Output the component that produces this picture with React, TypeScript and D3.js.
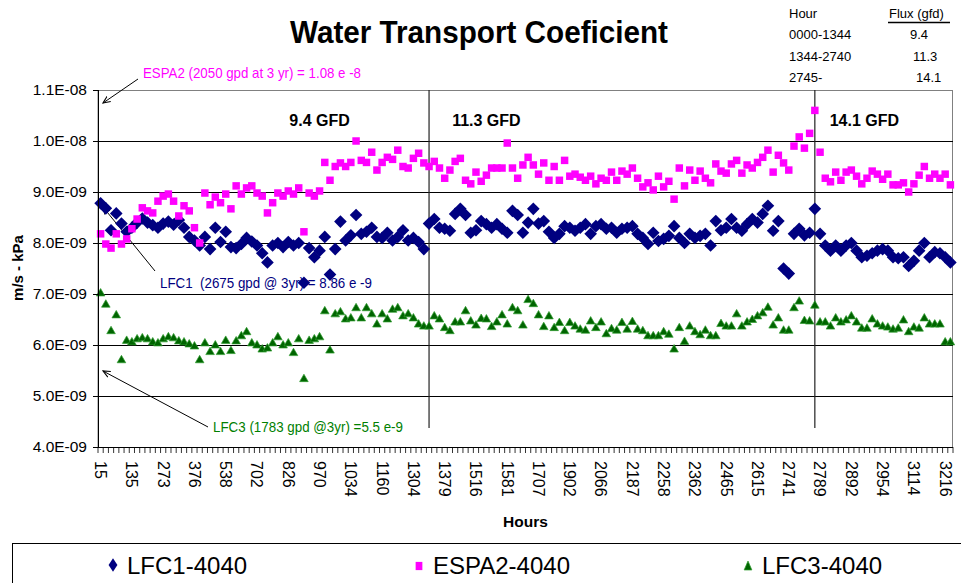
import React from 'react';
import * as d3 from 'd3';

// values in units of 1e-9 m/s-kPa, one per sampled hour (category)
const lfc1 = [
  8.78, 8.68, 8.25, 8.58, 8.38, 8.22, 8.3, 8.4, 8.48, 8.4, 8.35, 8.3, 8.38, 8.42, 8.36, 8.45, 8.3, 8.12, 8.05, 7.95,
  8.12, 7.88, 8.3, 8.02, 8.22, 7.92, 7.9, 7.98, 8.1, 8.03, 7.95, 7.8, 7.62, 7.95, 8.0, 7.92, 8.02, 7.95, 8.0, 7.22,
  7.9, 7.72, 7.85, 8.12, 7.38, 7.88, 8.42, 8.05, 8.15, 8.55, 8.18, 8.22, 8.3, 8.12, 8.1, 8.2, 8.05, 8.12, 8.25, 8.05,
  8.1, 8.02, 7.88, 8.38,
  8.47, 8.3, 8.28, 8.24, 8.57, 8.67, 8.55, 8.2, 8.25, 8.43, 8.37, 8.3, 8.37, 8.28, 8.2, 8.63, 8.55, 8.2, 8.4, 8.67,
  8.38, 8.43, 8.22, 8.1, 8.18, 8.33, 8.3, 8.24, 8.3, 8.37, 8.18, 8.33, 8.37, 8.28, 8.3, 8.2, 8.28, 8.3, 8.33, 8.18,
  8.1, 7.98, 8.2, 8.04, 8.08, 8.14, 8.33, 8.1, 8.0, 8.18, 8.1, 8.14, 8.18, 7.95, 8.43, 8.25, 8.3, 8.47, 8.3, 8.24,
  8.37, 8.47, 8.4, 8.57, 8.73, 8.24, 8.43, 7.5, 7.4, 8.18, 8.28, 8.15, 8.2, 8.67,
  8.18, 7.95, 7.85, 7.95, 7.85, 7.95, 8.0, 7.85, 7.72, 7.75, 7.8, 7.85, 7.88, 7.85, 7.72, 7.7, 7.72, 7.55, 7.65, 7.85,
  8.0, 7.72, 7.82, 7.8, 7.72, 7.62,
];

const espa2 = [
  8.18, 7.98, 7.9, 8.18, 7.98, 8.08, 8.28, 8.47, 8.69, 8.63, 8.59, 8.82, 8.92, 8.96, 8.82, 8.53, 8.73, 8.63, 8.3, 8.0,
  8.98, 8.75, 8.9, 8.79, 8.96, 8.67, 9.12, 8.96, 9.08, 9.12, 8.98, 8.92, 8.59, 8.79, 8.98, 8.92, 9.02, 8.96, 9.08, 8.22,
  8.98, 8.92, 9.02, 9.58, 9.23, 9.5, 9.57, 9.5, 9.58, 10.0, 9.62, 9.58, 9.78, 9.43, 9.58, 9.68, 9.64, 9.82, 9.5, 9.47,
  9.66, 9.76, 9.57, 9.5,
  9.6, 9.47, 9.27, 9.43, 9.6, 9.66, 9.23, 9.16, 9.39, 9.21, 9.33, 9.47, 9.47, 9.47, 9.96, 9.47, 9.27, 9.53, 9.68, 9.53,
  9.35, 9.57, 9.23, 9.5, 9.23, 9.62, 9.31, 9.35, 9.29, 9.23, 9.31, 9.16, 9.27, 9.23, 9.39, 9.23, 9.41, 9.35, 9.47, 9.27,
  9.1, 9.18, 9.04, 9.31, 9.1, 9.21, 8.86, 9.47, 9.12, 9.43, 9.23, 9.41, 9.27, 9.18, 9.55, 9.41, 9.37, 9.55, 9.62, 9.37,
  9.53, 9.47, 9.58, 9.68, 9.82, 9.39, 9.72, 9.57, 9.43, 9.9, 10.08, 9.86, 10.15, 10.6,
  9.78, 9.27, 9.2, 9.39, 9.23, 9.39, 9.43, 9.31, 9.16, 9.27, 9.41, 9.35, 9.25, 9.35, 9.14, 9.14, 9.18, 9.0, 9.16, 9.33,
  9.5, 9.27, 9.35, 9.27, 9.35, 9.14,
];

const lfc3 = [
  7.03, 6.81, 6.29, 6.6, 5.72, 6.1, 6.07, 6.13, 6.15, 6.13, 6.07, 6.05, 6.13, 6.17, 6.15, 6.09, 6.07, 6.03, 5.99, 5.72,
  6.05, 5.88, 6.01, 5.88, 6.1, 5.9, 6.09, 6.19, 6.27, 6.05, 6.01, 5.93, 5.95, 6.05, 6.17, 6.01, 6.05, 5.86, 6.13, 5.35,
  6.1, 6.13, 6.17, 6.68, 5.91, 6.62, 6.66, 6.52, 6.54, 6.74, 6.54, 6.74, 6.62, 6.42, 6.62, 6.52, 6.71, 6.74, 6.58, 6.62,
  6.54, 6.42, 6.38,
  6.38, 6.58, 6.52, 6.35, 6.29, 6.46, 6.46, 6.68, 6.48, 6.4, 6.53, 6.52, 6.37, 6.46, 6.6, 6.42, 6.74, 6.68, 6.4, 6.9,
  6.82, 6.6, 6.37, 6.58, 6.35, 6.45, 6.29, 6.45, 6.38, 6.32, 6.3, 6.48, 6.35, 6.46, 6.23, 6.33, 6.3, 6.45, 6.32, 6.47,
  6.32, 6.29, 6.19, 6.19, 6.19, 6.27, 6.22, 5.93, 6.35, 6.08, 6.38, 6.27, 6.21, 6.3, 6.19, 6.19, 6.43, 6.38, 6.38, 6.62,
  6.38, 6.46, 6.51, 6.58, 6.64, 6.75, 6.4, 6.54, 6.3, 6.3, 6.74, 6.87, 6.49, 6.48, 6.79,
  6.46, 6.46, 6.38, 6.54, 6.46, 6.5, 6.58, 6.46, 6.34, 6.34, 6.52, 6.42, 6.38, 6.36, 6.32, 6.34, 6.5, 6.27, 6.36, 6.34,
  6.54, 6.42, 6.42, 6.42, 6.07, 6.07,
];

// hour labels shown on every 6th category
const xTickLabels = [
  '15', '135', '273', '376', '538', '702', '826', '970', '1034', '1160', '1304', '1379', '1516', '1581',
  '1707', '1902', '2066', '2187', '2258', '2362', '2465', '2615', '2741', '2789', '2892', '2954', '3114', '3216',
];
const labelEvery = 6;

const yTicks = [4, 5, 6, 7, 8, 9, 10, 11];
const yTickLabels = ['4.0E-09', '5.0E-09', '6.0E-09', '7.0E-09', '8.0E-09', '9.0E-09', '1.0E-08', '1.1E-08'];

const fluxRows = [
  ['0000-1344', '9.4'],
  ['1344-2740', '11.3'],
  ['2745-', '14.1'],
];
const gfdLabels = ['9.4 GFD', '11.3 GFD', '14.1 GFD'];
const fluxChangeAt = [63, 137]; // category where the flux was raised

const legendItems = ['LFC1-4040', 'ESPA2-4040', 'LFC3-4040'];

const FONT = '"Liberation Sans", Arial, sans-serif';
const NAVY = '#000080';
const PINK = '#FF00FF';
const GREEN = '#006400';

const plot = { left: 98, top: 90, right: 953, bottom: 447 };

export default function App() {
  const n = lfc1.length;
  const x = d3.scaleBand<number>().domain(d3.range(n)).range([plot.left, plot.right]);
  const bw = x.bandwidth();
  const cx = (i: number) => plot.left + (i + 0.5) * bw;
  const y = d3.scaleLinear().domain([4, 11]).range([plot.bottom, plot.top]);

  const diamond = d3.symbol(d3.symbolSquare, 80)()!;
  const square = d3.symbol(d3.symbolSquare, 56)()!;
  const triangle = d3.symbol(d3.symbolTriangle, 32)()!;

  const gfdPos = [42, 74, 146.5];

  return (
    <svg width={961} height={583} style={{ position: 'absolute', left: 0, top: 0, background: '#fff' }} fontFamily={FONT}>
      <defs>
        <marker id="arrow" viewBox="0 0 10 10" refX="9" refY="5" markerWidth="8" markerHeight="8" orient="auto">
          <path d="M0,1 L9,5 L0,9" fill="none" stroke="#000" strokeWidth="1.4" />
        </marker>
      </defs>

      {/* title */}
      <text x={479} y={43} textAnchor="middle" fontSize={31} fontWeight="bold" textLength={378} lengthAdjust="spacingAndGlyphs">
        Water Transport Coeficient
      </text>

      {/* flux table */}
      <g fontSize={13}>
        <text x={789} y={18}>Hour</text>
        <text x={889} y={18}>Flux (gfd)</text>
        <line x1={888} x2={950} y1={22.5} y2={22.5} stroke="#000" strokeWidth={1.3} />
        {fluxRows.map((r, i) => (
          <g key={r[0]}>
            <text x={789} y={39 + i * 21.5}>{r[0]}</text>
            <text x={910 + i * 3} y={39 + i * 21.5}>{r[1]}</text>
          </g>
        ))}
      </g>

      {/* plot area */}
      <rect x={plot.left} y={plot.top + 0.5} width={plot.right - plot.left - 0.5} height={plot.bottom - plot.top}
        fill="#fff" stroke="#808080" strokeWidth={1} />
      {yTicks.slice(1, -1).map(t => (
        <line key={t} x1={plot.left} x2={plot.right} y1={Math.round(y(t)) + 0.5} y2={Math.round(y(t)) + 0.5} stroke="#000" strokeWidth={1} />
      ))}

      {/* flux change lines */}
      {fluxChangeAt.map(i => (
        <line key={i} x1={cx(i)} x2={cx(i)} y1={plot.top} y2={428} stroke="#222" strokeWidth={1.2} />
      ))}
      {gfdLabels.map((g, i) => (
        <text key={g} x={cx(gfdPos[i])} y={126} textAnchor="middle" fontSize={16} fontWeight="bold">{g}</text>
      ))}

      {/* annotations */}
      <text x={143} y={78} fontSize={15} fill={PINK} textLength={218} lengthAdjust="spacingAndGlyphs">
        ESPA2 (2050 gpd at 3 yr) = 1.08 e -8
      </text>
      <line x1={138} y1={79} x2={103} y2={103} stroke="#000" strokeWidth={1} markerEnd="url(#arrow)" />
      <text x={160} y={288} fontSize={15} fill={NAVY} textLength={212} lengthAdjust="spacingAndGlyphs" style={{ whiteSpace: 'pre' }}>
        {'LFC1  (2675 gpd @ 3yr) = 8.86 e -9'}
      </text>
      <line x1={155} y1={271} x2={103} y2={207} stroke="#000" strokeWidth={1} markerEnd="url(#arrow)" />
      <text x={213} y={432} fontSize={15} fill="#008000" textLength={190} lengthAdjust="spacingAndGlyphs">
        LFC3 (1783 gpd @3yr) =5.5 e-9
      </text>
      <line x1={208} y1={427} x2={103} y2={371} stroke="#000" strokeWidth={1} markerEnd="url(#arrow)" />

      {/* series */}
      <g>
        {lfc1.map((v, i) => (
          <path key={i} d={diamond} transform={`translate(${cx(i)},${y(v)}) rotate(45)`} fill={NAVY} />
        ))}
      </g>
      <g>
        {espa2.map((v, i) => (
          <path key={i} d={square} transform={`translate(${cx(i)},${y(v)})`} fill={PINK} />
        ))}
      </g>
      <g>
        {lfc3.map((v, i) => (
          <path key={i} d={triangle} transform={`translate(${cx(i)},${y(v) + 1})`} fill={GREEN} stroke="#2f9e2f" strokeWidth={0.7} />
        ))}
      </g>

      {/* y axis */}
      <line x1={plot.left + 0.5} x2={plot.left + 0.5} y1={plot.top} y2={plot.bottom} stroke="#000" />
      {yTicks.map((t, i) => (
        <g key={t}>
          <line x1={plot.left - 5} x2={plot.left} y1={Math.round(y(t)) + 0.5} y2={Math.round(y(t)) + 0.5} stroke="#000" />
          <text x={87} y={y(t)} dy="0.35em" textAnchor="end" fontSize={15.5}>{yTickLabels[i]}</text>
        </g>
      ))}
      <text transform={`translate(23,268) rotate(-90)`} textAnchor="middle" fontSize={15} fontWeight="bold">m/s - kPa</text>

      {/* x axis */}
      <line x1={plot.left} x2={plot.right} y1={plot.bottom + 0.5} y2={plot.bottom + 0.5} stroke="#000" />
      {d3.range(n + 1).map(k => (
        <line key={k} x1={plot.left + k * bw} x2={plot.left + k * bw} y1={plot.bottom} y2={plot.bottom + 6} stroke="#000" strokeWidth={0.8} />
      ))}
      {xTickLabels.map((l, j) => (
        <text key={l} transform={`translate(${cx(j * labelEvery)},461) rotate(90)`} dy="0.35em" fontSize={16}>{l}</text>
      ))}
      <text x={(plot.left + plot.right) / 2} y={527} textAnchor="middle" fontSize={15.5} fontWeight="bold">Hours</text>

      {/* legend */}
      <rect x={12.5} y={543.5} width={960} height={60} fill="#fff" stroke="#000" />
      <path d={diamond} transform="translate(113,565) scale(0.7,1.05) rotate(45)" fill={NAVY} />
      <text x={127} y={574} fontSize={24}>{legendItems[0]}</text>
      <path d={square} transform="translate(419,566) scale(0.9,1.1)" fill={PINK} />
      <text x={433} y={574} fontSize={24}>{legendItems[1]}</text>
      <path d={triangle} transform="translate(748,567) scale(0.9,1.2)" fill={GREEN} stroke="#2f9e2f" strokeWidth={0.7} />
      <text x={762} y={574} fontSize={24}>{legendItems[2]}</text>
    </svg>
  );
}
